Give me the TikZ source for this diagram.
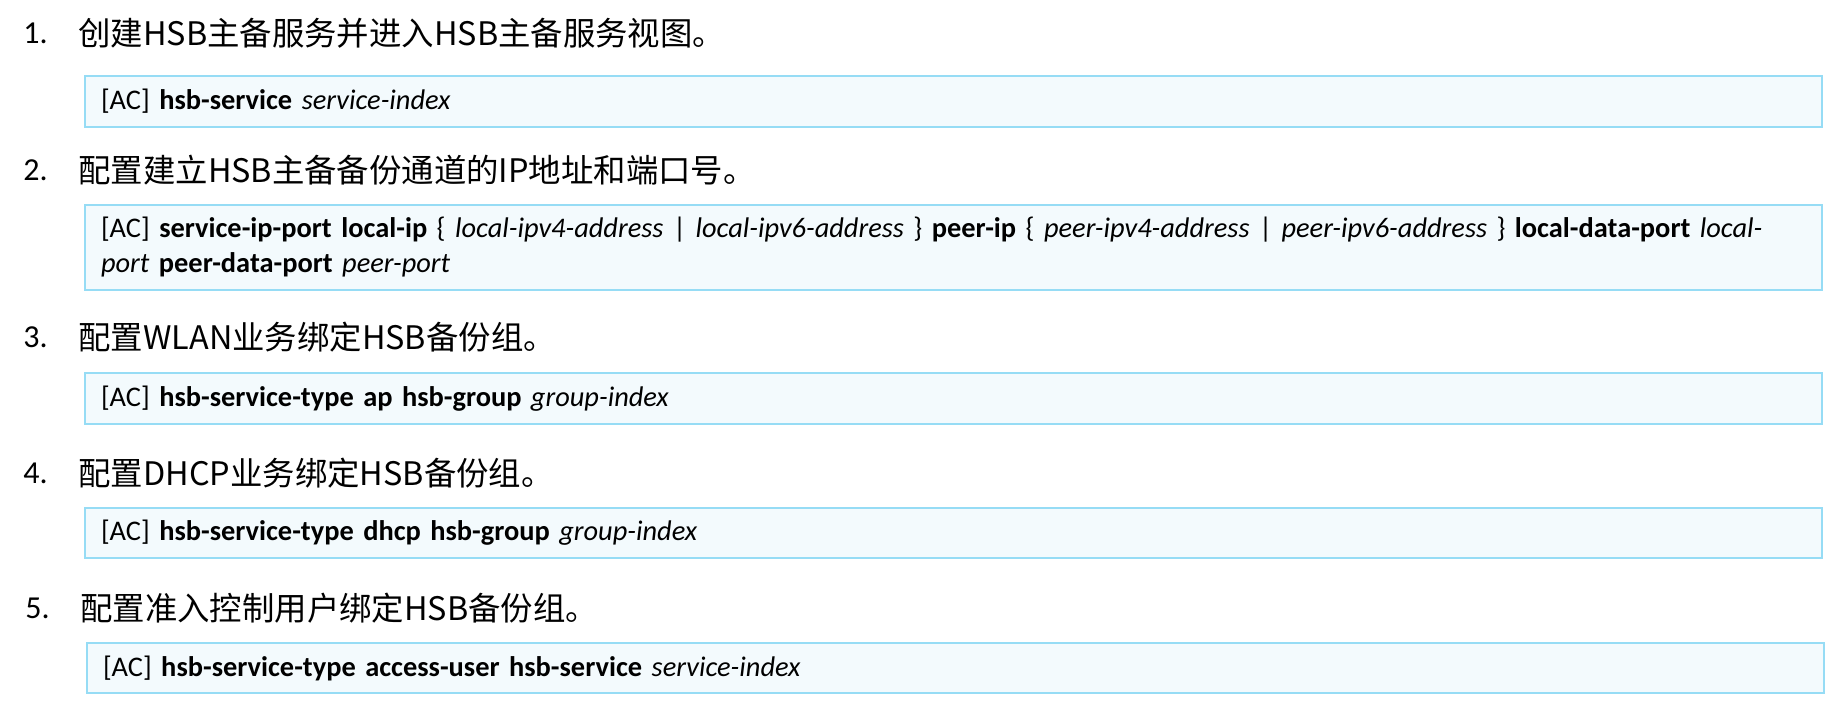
\documentclass[tikz,border=0pt]{standalone}
\usepackage{fontspec}
\setmainfont{Carlito}
\newfontfamily\cjk{Noto Sans CJK SC}
\usetikzlibrary{positioning}
\definecolor{boxline}{HTML}{96DCF5}
\definecolor{boxfill}{HTML}{F3FAFD}
\tikzset{
  stepnum/.style = {anchor=west, inner sep=0pt, font=\fontsize{16}{19}\selectfont},
  steptitle/.style = {anchor=west, inner sep=0pt, font=\cjk\fontsize{16.2}{19}\selectfont},
  cmdbox/.style = {draw=boxline, fill=boxfill, line width=1pt, anchor=north west,
                   inner xsep=8pt, inner ysep=0pt, text width=852.5pt, align=left,
                   minimum height=25.5pt, font=\fontsize{14.2}{17.5}\selectfont}
}
\begin{document}
\begin{tikzpicture}[x=0.5pt, y=-0.5pt]
\useasboundingbox (0,0) rectangle (1827,702);
% steps
\foreach \dx/\y/\txt [count=\i] in {0/33/{创建HSB主备服务并进入HSB主备服务视图。},
                                   0/170/{配置建立HSB主备备份通道的IP地址和端口号。},
                                   0/337/{配置WLAN业务绑定HSB备份组。},
                                   0/473/{配置DHCP业务绑定HSB备份组。},
                                   2/608/{配置准入控制用户绑定HSB备份组。}}
{
  \node[stepnum] (num\i) at (23+\dx,\y) {\i.};
  \node[steptitle] (step\i) at (78+\dx,\y) {\txt};
}
% commands
\node[cmdbox] (cmd1) at (84,75) {[AC] \textbf{hsb-service} \textit{service-index}};
\node[cmdbox, minimum height=42.5pt] (cmd2) at (84,204)
  {[AC] \textbf{service-ip-port local-ip} \{ \textit{local-ipv4-address} | \textit{local-ipv6-address} \}
   \textbf{peer-ip} \{ \textit{peer-ipv4-address} | \textit{peer-ipv6-address} \} \textbf{local-data-port} \textit{local-}\\
   \textit{port} \textbf{peer-data-port} \textit{peer-port}};
\node[cmdbox] (cmd3) at (84,372) {[AC] \textbf{hsb-service-type ap hsb-group} \textit{group-index}};
\node[cmdbox, minimum height=25pt] (cmd4) at (84,507) {[AC] \textbf{hsb-service-type dhcp hsb-group} \textit{group-index}};
\node[cmdbox, minimum height=25pt] (cmd5) at (86,642) {[AC] \textbf{hsb-service-type access-user hsb-service} \textit{service-index}};
\end{tikzpicture}
\end{document}
